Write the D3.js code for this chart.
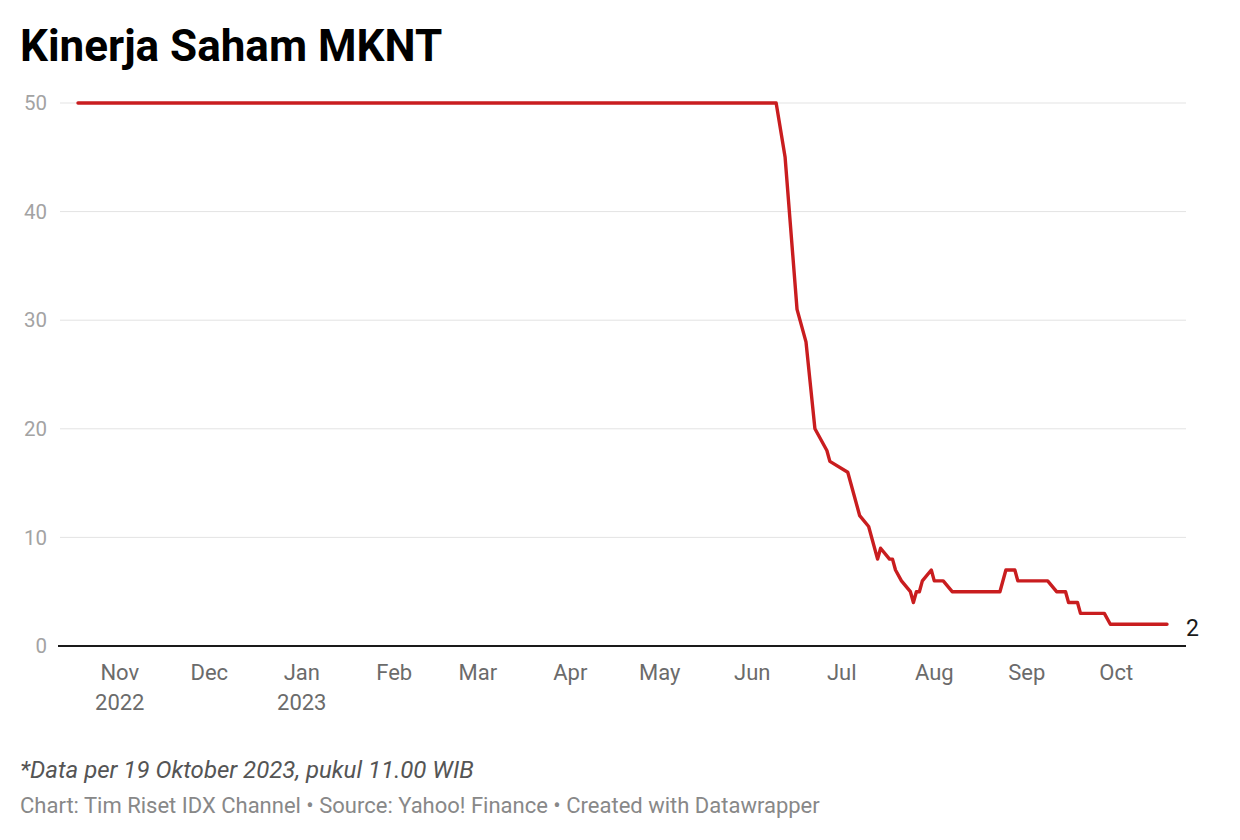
<!DOCTYPE html>
<html>
<head>
<meta charset="utf-8">
<script src="https://cdn.jsdelivr.net/npm/d3@7"></script>
<style>
  body { margin: 0; background: #fff; }
  svg { display: block; font-family: Roboto, "Noto Sans", sans-serif; }
  .grid line { stroke: #e3e3e3; stroke-width: 1px; }
  .ylab { fill: #a3a3a3; font-size: 20.5px; }
  .xlab { fill: #6b6b6b; font-size: 22px; }
</style>
</head>
<body>
<script>
// closing prices (turning points only)
var dates = ["2022-10-18","2023-06-09","2023-06-12","2023-06-16","2023-06-19","2023-06-22",
    "2023-06-26","2023-06-27","2023-07-03","2023-07-07","2023-07-10","2023-07-13","2023-07-14",
    "2023-07-17","2023-07-18","2023-07-19","2023-07-21","2023-07-24","2023-07-25","2023-07-26",
    "2023-07-27","2023-07-28","2023-07-31","2023-08-01","2023-08-04","2023-08-07","2023-08-23",
    "2023-08-25","2023-08-28","2023-08-29","2023-09-08","2023-09-11","2023-09-14","2023-09-15",
    "2023-09-18","2023-09-19","2023-09-27","2023-09-29","2023-10-18"];
var prices = [50,50,45,31,28,20,18,17,16,12,11,8,9,8,8,7,6,5,4,5,5,6,7,6,6,5,5,7,7,6,6,5,5,4,4,3,3,2,2];

var yTicks = [0, 10, 20, 30, 40, 50];
var monthTicks = ["2022-11-01","2022-12-01","2023-01-01","2023-02-01","2023-03-01","2023-04-01",
    "2023-05-01","2023-06-01","2023-07-01","2023-08-01","2023-09-01","2023-10-01"];
var monthLabels = ["Nov","Dec","Jan","Feb","Mar","Apr","May","Jun","Jul","Aug","Sep","Oct"];
var yearLabels = {"Nov": "2022", "Jan": "2023"};

var title = "Kinerja Saham MKNT";
var note = "*Data per 19 Oktober 2023, pukul 11.00 WIB";
var credit = "Chart: Tim Riset IDX Channel \u2022 Source: Yahoo! Finance \u2022 Created with Datawrapper";

var width = 1240, height = 840;
var parse = d3.timeParse("%Y-%m-%d");

var data = dates.map(function(d, i){ return {date: parse(d), value: prices[i]}; });

var svg = d3.select("body").append("svg")
    .attr("width", width)
    .attr("height", height);

svg.append("rect").attr("width", width).attr("height", height).attr("fill", "#fff");

//scales
var x = d3.scaleTime()
    .domain([data[0].date, data[data.length - 1].date])
    .range([78, 1167]);
var y = d3.scaleLinear()
    .domain([0, 50])
    .range([646, 103]);

//title
svg.append("text")
    .attr("x", 20).attr("y", 61)
    .attr("font-size", 44).attr("font-weight", 700).attr("fill", "#000")
    .text(title);

//gridlines + y labels
var grid = svg.append("g").attr("class", "grid");
grid.selectAll("line")
    .data(yTicks.filter(function(t){ return t > 0; }))
    .enter().append("line")
    .attr("x1", 60).attr("x2", 1186)
    .attr("y1", function(d){ return y(d); })
    .attr("y2", function(d){ return y(d); });

svg.selectAll(".ylab")
    .data(yTicks)
    .enter().append("text")
    .attr("class", "ylab")
    .attr("x", 47)
    .attr("y", function(d){ return y(d); })
    .attr("dy", "0.35em")
    .attr("text-anchor", "end")
    .text(function(d){ return d; });

//baseline
svg.append("line")
    .attr("x1", 58).attr("x2", 1186)
    .attr("y1", y(0)).attr("y2", y(0))
    .attr("stroke", "#1a1a1a").attr("stroke-width", 2);

//x labels
var xl = svg.selectAll(".xlab")
    .data(monthTicks)
    .enter().append("text")
    .attr("class", "xlab")
    .attr("text-anchor", "middle")
    .attr("x", function(d){ return x(parse(d)); })
    .attr("y", 680);
xl.append("tspan")
    .text(function(d, i){ return monthLabels[i]; });
xl.append("tspan")
    .attr("x", function(d){ return x(parse(d)); })
    .attr("dy", 30)
    .text(function(d, i){ return yearLabels[monthLabels[i]] || ""; });

//price line
var line = d3.line()
    .x(function(d){ return x(d.date); })
    .y(function(d){ return y(d.value); });

svg.append("path")
    .datum(data)
    .attr("d", line)
    .attr("fill", "none")
    .attr("stroke", "#c91d1f")
    .attr("stroke-width", 3.4)
    .attr("stroke-linejoin", "round")
    .attr("stroke-linecap", "round");

//end value label
var last = data[data.length - 1];
svg.append("text")
    .attr("x", x(last.date) + 19)
    .attr("y", y(last.value) + 12)
    .attr("font-size", 23).attr("fill", "#1a1a1a")
    .text(last.value);

//footer
svg.append("text")
    .attr("x", 20).attr("y", 778)
    .attr("font-size", 24).attr("font-style", "italic").attr("fill", "#555")
    .text(note);
svg.append("text")
    .attr("x", 20).attr("y", 813)
    .attr("font-size", 22).attr("fill", "#888")
    .text(credit);
</script>
</body>
</html>
